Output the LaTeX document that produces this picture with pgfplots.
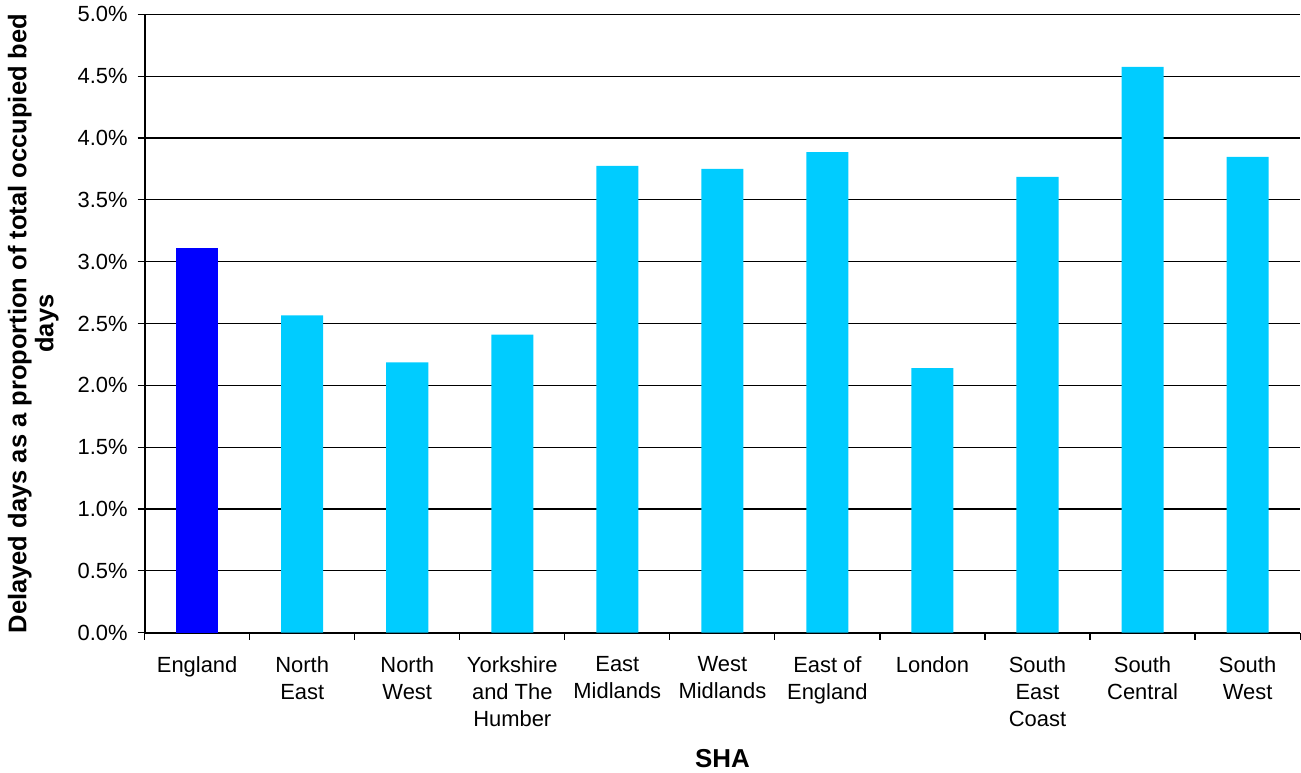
\documentclass[border=0pt]{standalone}
\usepackage{fontspec}
\setmainfont{Liberation Sans}
\usepackage{pgfplots}
\pgfplotsset{compat=1.18}
\definecolor{engblue}{RGB}{0,0,255}
\definecolor{shacyan}{RGB}{0,204,255}
\begin{document}
\begin{tikzpicture}
\begin{axis}[
  scale only axis,
  width=577.5bp, height=309bp,
  xmin=-0.5, xmax=10.5,
  ymin=0, ymax=5,
  axis x line*=bottom,
  axis y line*=left,
  axis line style={black, line width=0.9bp},
  xtick={-0.5,0.5,...,10.5},
  x tick label as interval=true,
  xticklabels={England,North\\East,North\\West,Yorkshire\\and The\\Humber,East\\Midlands,West\\Midlands,East of\\England,London,South\\East\\Coast,South\\Central,South\\West},
  xticklabel style={align=center, font=\fontsize{11}{13.5}\selectfont, anchor=north, yshift=-5bp},
  ytick={0,0.5,...,5},
  yticklabels={0.0\%,0.5\%,1.0\%,1.5\%,2.0\%,2.5\%,3.0\%,3.5\%,4.0\%,4.5\%,5.0\%},
  yticklabel style={font=\fontsize{11}{12}\selectfont, xshift=-1.5bp},
  tick align=outside,
  major tick length=3.5bp,
  tick style={black, line width=0.6bp},
  ymajorgrids,
  major grid style={black, line width=0.6bp},
  ylabel={Delayed days as a proportion of total occupied bed\\days},
  ylabel style={at={(axis description cs:-0.12554,0.5)}, anchor=north, inner xsep=0pt, inner ysep=4bp, align=center, font=\bfseries\fontsize{12.8}{13.5}\selectfont},
  xlabel={SHA},
  xlabel style={at={(axis description cs:0.5,-0.2184)}, anchor=base, inner sep=0pt, inner ysep=2.5bp, font=\bfseries\fontsize{13}{13}\selectfont},
  ybar,
  bar width=0.4,
  clip=false,
]
\addplot[draw=none, fill=engblue, bar shift=0pt] coordinates {(0,3.113)};
\addplot[draw=none, fill=shacyan, bar shift=0pt] coordinates {
 (1,2.565) (2,2.185) (3,2.41) (4,3.774) (5,3.75) (6,3.887) (7,2.14) (8,3.686) (9,4.575) (10,3.847)};
\end{axis}
\end{tikzpicture}
\end{document}
